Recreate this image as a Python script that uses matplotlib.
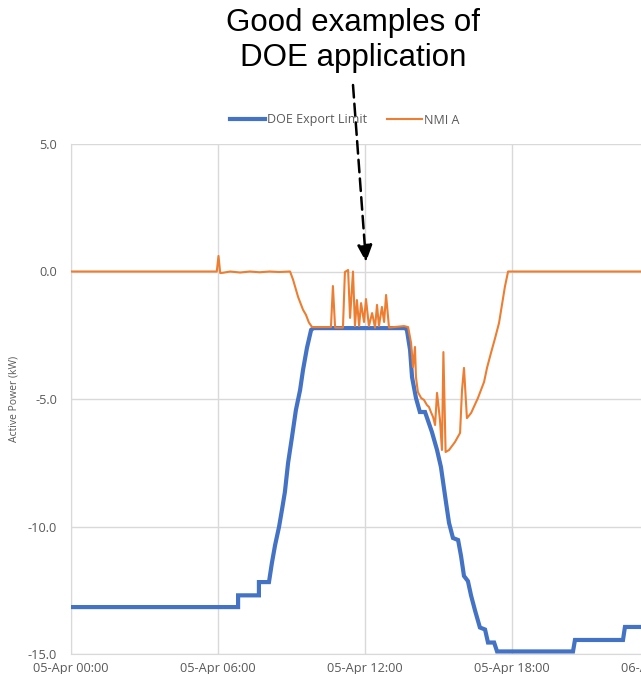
import numpy as np
import matplotlib.pyplot as plt

# hours since 05-Apr 00:00
doe_t = [0, 6.82, 6.82, 7.67, 7.67, 8.08, 8.2, 8.33, 8.49, 8.61, 8.73, 8.86, 9.02,
         9.18, 9.35, 9.47, 9.63, 9.80, 9.9, 13.63, 13.71, 13.84, 13.92, 14.08, 14.24,
         14.45, 14.73, 14.94, 15.10, 15.31, 15.43, 15.59, 15.80, 15.92, 16.04, 16.20,
         16.33, 16.49, 16.69, 16.90, 17.02, 17.27, 17.39, 20.49, 20.57, 22.53, 22.61, 24.5]
doe_v = [-13.16, -13.16, -12.7, -12.7, -12.18, -12.18, -11.43, -10.73, -10.02, -9.35,
         -8.65, -7.51, -6.49, -5.43, -4.65, -3.86, -3.0, -2.29, -2.22, -2.22, -2.29,
         -3.08, -4.14, -4.96, -5.51, -5.51, -6.29, -7.0, -7.67, -9.08, -9.86, -10.45,
         -10.53, -11.16, -11.94, -12.14, -12.71, -13.29, -13.96, -14.04, -14.55, -14.55,
         -14.9, -14.9, -14.45, -14.45, -13.94, -13.94]

nmi_t = [0, 5.95, 6.02, 6.09, 6.2, 6.5, 6.9, 7.3, 7.7, 8.1, 8.5, 8.94, 9.06, 9.27,
         9.47, 9.59, 9.71, 9.84, 10.0, 10.61, 10.69, 10.78, 11.10, 11.18, 11.31, 11.39,
         11.51, 11.59, 11.67, 11.76, 11.84, 11.96, 12.04, 12.16, 12.29, 12.41, 12.49,
         12.57, 12.69, 12.78, 12.86, 12.98, 13.59, 13.76, 13.88, 13.96, 14.04, 14.08,
         14.16, 14.29, 14.41, 14.53, 14.61, 14.69, 14.78, 14.86, 14.94, 15.06, 15.14,
         15.20, 15.29, 15.43, 15.67, 15.88, 15.96, 16.04, 16.16, 16.33, 16.61, 16.86,
         16.98, 17.14, 17.31, 17.47, 17.59, 17.71, 17.84, 24.5]
nmi_v = [0, 0, 0.61, -0.06, -0.05, 0, -0.04, 0, -0.03, 0, -0.02, 0, -0.31, -1.0,
         -1.5, -1.7, -2.0, -2.18, -2.18, -2.18, -0.57, -2.2, -2.2, -0.02, 0.06, -1.82,
         0.0, -2.14, -1.12, -2.14, -1.24, -1.98, -1.08, -2.14, -1.63, -2.2, -1.31,
         -2.14, -1.39, -1.98, -0.92, -2.2, -2.14, -2.18, -2.8, -3.75, -2.96, -4.14,
         -4.73, -4.96, -5.04, -5.24, -5.31, -5.51, -5.71, -6.02, -4.76, -5.82, -7.0,
         -3.16, -7.08, -7.0, -6.69, -6.33, -4.65, -3.78, -5.75, -5.55, -4.96, -4.33,
         -3.78, -3.2, -2.61, -2.02, -1.31, -0.6, 0, 0]

x_ticks = [0, 6, 12, 18, 24]
x_labels = ['05-Apr 00:00', '05-Apr 06:00', '05-Apr 12:00', '05-Apr 18:00', '06-Apr 00:00']
y_ticks = [5, 0, -5, -10, -15]
y_labels = ['5.0', '0.0', '-5.0', '-10.0', '-15.0']

W, H = 641, 674
fig = plt.figure(figsize=(W / 100, H / 100), dpi=100)
ax = fig.add_axes([71 / W, 20 / H, 588 / W, 510 / H])

ax.plot(doe_t, doe_v, color='#4472C4', lw=3.0, label='DOE Export Limit', zorder=3,
        solid_joinstyle='miter')
ax.plot(nmi_t, nmi_v, color='#ED7D31', lw=1.5, label='NMI A', zorder=4)

ax.set_xlim(0, 24)
ax.set_ylim(-15, 5)
ax.set_xticks(x_ticks)
ax.set_xticklabels(x_labels)
ax.set_yticks(y_ticks)
ax.set_yticklabels(y_labels)
ax.grid(True, color='#D9D9D9', lw=1)
ax.set_axisbelow(True)
ax.tick_params(length=0, labelsize=9.2, labelcolor='#595959')
ax.tick_params(axis='x', pad=5.5)
ax.tick_params(axis='y', pad=10)
for lab in ax.get_xticklabels() + ax.get_yticklabels():
    lab.set_family('Open Sans')
for s in ['top', 'right']:
    ax.spines[s].set_visible(False)
for s in ['left', 'bottom']:
    ax.spines[s].set_color('#D9D9D9')
ax.set_ylabel('Active Power (kW)', fontsize=7.5, color='#595959', family='Open Sans',
              labelpad=6)

fig.legend(loc='center', bbox_to_anchor=(345 / W, 1 - 120 / H), ncol=2, frameon=False,
           handlelength=2.8, handletextpad=0.15, columnspacing=1.6,
           labelcolor='#595959', prop={'family': 'Open Sans', 'size': 9})

fig.text(353 / W, 1 - 31 / H, 'Good examples of', ha='center', va='baseline',
         fontsize=22.5, family='Liberation Sans')
fig.text(353 / W, 1 - 66 / H, 'DOE application', ha='center', va='baseline',
         fontsize=22.5, family='Liberation Sans')

ax.annotate('', xy=(366, H - 262), xycoords='figure pixels',
            xytext=(353, H - 85), textcoords='figure pixels',
            arrowprops=dict(arrowstyle='-|>,head_width=0.45,head_length=1.0',
                            linestyle=(0, (5, 2.5)), lw=1.8, color='black',
                            shrinkA=0, shrinkB=0),
            annotation_clip=False)

fig.savefig('out.png', dpi=100)
